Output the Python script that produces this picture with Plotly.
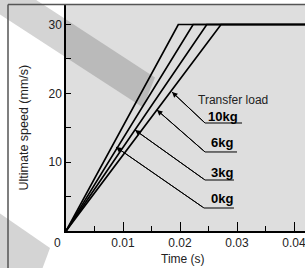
import plotly.graph_objects as go

# ---------------- data ----------------
loads = ["0kg", "3kg", "6kg", "10kg"]
time_to_max = [0.0197, 0.0223, 0.0247, 0.0272]   # s, time when 30 mm/s is reached
max_speed = 30.0                                   # mm/s
plateau_end = 0.05                                 # s (beyond visible range)

x_tickvals = [0.01, 0.02, 0.03, 0.04]
x_ticktext = ["0.01", "0.02", "0.03", "0.04"]
x_minor = [0.005, 0.015, 0.025, 0.035]
y_tickvals = [10, 20, 30]
y_ticktext = ["10", "20", "30"]
y_minor = [5, 15, 25]

# leader lines: tip (on curve) -> elbow -> end of underline (time, speed)
leader_tip_t = [0.00877, 0.01211, 0.01596, 0.0186]
leader_tip_v = [12.20, 14.67, 17.58, 20.19]
leader_elbow_t = [0.02421, 0.02439, 0.02439, 0.02439]
leader_elbow_v = [3.34, 7.41, 11.48, 15.69]
leader_end_t = [0.02947, 0.02947, 0.0300, 0.03088]
label_t = [0.02728, 0.02728, 0.02728, 0.02754]
label_v = [4.69, 8.57, 12.86, 16.66]

# ---------------- layout geometry (pixels) ----------------
W, H = 305, 268
L, R, T, B = 66, 305, 5, 231
XMAX = (R - L) / 5700.0
YMAX = (B - T) / 6.883


def px(x):
    return (x - L) / (R - L)


def py(y):
    return (B - y) / (B - T)


def path(pts):
    return "M " + " L ".join(f"{px(a):.4f},{py(b):.4f}" for a, b in pts) + " Z"


FONT = "Liberation Sans, Arial, Helvetica, sans-serif"
TXT = "#222222"

fig = go.Figure()

for name, t in zip(loads, time_to_max):
    fig.add_trace(go.Scatter(
        x=[0, t, plateau_end], y=[0, max_speed, max_speed],
        mode="lines", line=dict(color="black", width=1.7),
        name=name, showlegend=False, hoverinfo="skip"))

for i in range(len(loads)):
    fig.add_trace(go.Scatter(
        x=[leader_tip_t[i], leader_elbow_t[i], leader_end_t[i]],
        y=[leader_tip_v[i], leader_elbow_v[i], leader_elbow_v[i]],
        mode="lines", line=dict(color="black", width=1),
        showlegend=False, hoverinfo="skip"))

shapes = []
# light diagonal band (on white margin)
shapes.append(dict(type="path", xref="paper", yref="paper", layer="below",
                   path=path([(-10, -30), (70, 22), (70, 60), (-10, 8)]),
                   fillcolor="#d4d4d4", line=dict(width=0)))
# bottom-left light band
shapes.append(dict(type="path", xref="paper", yref="paper", layer="below",
                   path=path([(-5, 210), (50, 248), (40, 275), (-5, 275)]),
                   fillcolor="#d4d4d4", line=dict(width=0)))
# plot background
shapes.append(dict(type="rect", xref="paper", yref="paper", layer="below",
                   x0=0, x1=1, y0=0, y1=1, fillcolor="#dedede", line=dict(width=0)))
# darker band inside plot
shapes.append(dict(type="path", xref="paper", yref="paper", layer="below",
                   path=path([(L, 19.5), (155, 77.4), (143, 107.6), (L, 57.5)]),
                   fillcolor="#bababa", line=dict(width=0)))
# outer frame
shapes.append(dict(type="line", xref="paper", yref="paper", layer="above",
                   x0=px(8), x1=px(310), y0=py(4.5), y1=py(4.5),
                   line=dict(color="#555555", width=1.5)))
shapes.append(dict(type="line", xref="paper", yref="paper", layer="above",
                   x0=px(8), x1=px(8), y0=py(4.5), y1=py(275),
                   line=dict(color="#555555", width=1.5)))

annotations = []
for i, lab in enumerate(loads):
    annotations.append(dict(
        x=leader_tip_t[i], y=leader_tip_v[i], ax=leader_elbow_t[i], ay=leader_elbow_v[i],
        xref="x", yref="y", axref="x", ayref="y", text="", showarrow=True,
        arrowhead=2, arrowsize=1.1, arrowwidth=1, arrowcolor="black"))
    annotations.append(dict(
        x=label_t[i], y=label_v[i], xref="x", yref="y", text=f"<b>{lab}</b>",
        showarrow=False, xanchor="center", yanchor="middle",
        font=dict(family=FONT, size=13, color="black")))

annotations.append(dict(x=0.02281, y=19.03, xref="x", yref="y", text="Transfer load",
                        showarrow=False, xanchor="left", yanchor="middle",
                        font=dict(family=FONT, size=12, color=TXT)))
annotations.append(dict(x=px(57.5), y=py(243.5), xref="paper", yref="paper", text="0",
                        showarrow=False, xanchor="center", yanchor="middle",
                        font=dict(family=FONT, size=12, color=TXT)))
annotations.append(dict(x=px(182.5), y=py(259), xref="paper", yref="paper", text="Time (s)",
                        showarrow=False, xanchor="center", yanchor="middle",
                        font=dict(family=FONT, size=12, color=TXT)))
annotations.append(dict(x=px(23.5), y=py(128), xref="paper", yref="paper",
                        text="Ultimate speed (mm/s)", textangle=-90,
                        showarrow=False, xanchor="center", yanchor="middle",
                        font=dict(family=FONT, size=12.5, color=TXT)))

fig.update_layout(
    template="none",
    width=W, height=H,
    margin=dict(l=L, r=W - R, t=T, b=H - B, pad=0, autoexpand=False),
    paper_bgcolor="white", plot_bgcolor="rgba(0,0,0,0)",
    font=dict(family=FONT, size=12, color=TXT),
    shapes=shapes, annotations=annotations,
    xaxis=dict(range=[0, XMAX], automargin=False, showgrid=False, zeroline=False,
               showline=True, linecolor="black", linewidth=1.5,
               ticks="inside", ticklen=9, tickwidth=1.2, tickcolor="black",
               tickvals=x_tickvals, ticktext=x_ticktext, ticklabeloverflow="allow",
               tickfont=dict(family=FONT, size=12, color=TXT),
               minor=dict(tickvals=x_minor, ticks="inside", ticklen=5,
                          tickwidth=1.2, tickcolor="black")),
    yaxis=dict(range=[0, YMAX], automargin=False, showgrid=False, zeroline=False,
               showline=True, linecolor="black", linewidth=1.5,
               ticks="inside", ticklen=5, tickwidth=1.2, tickcolor="black",
               tickvals=y_tickvals, ticktext=y_ticktext, ticklabeloverflow="allow",
               tickfont=dict(family=FONT, size=12, color=TXT),
               minor=dict(tickvals=y_minor, ticks="inside", ticklen=5,
                          tickwidth=1.2, tickcolor="black")),
)

fig.write_html("out.html", config={"displayModeBar": False},
               post_script="document.body.style.margin='0';document.body.style.overflow='hidden';")
